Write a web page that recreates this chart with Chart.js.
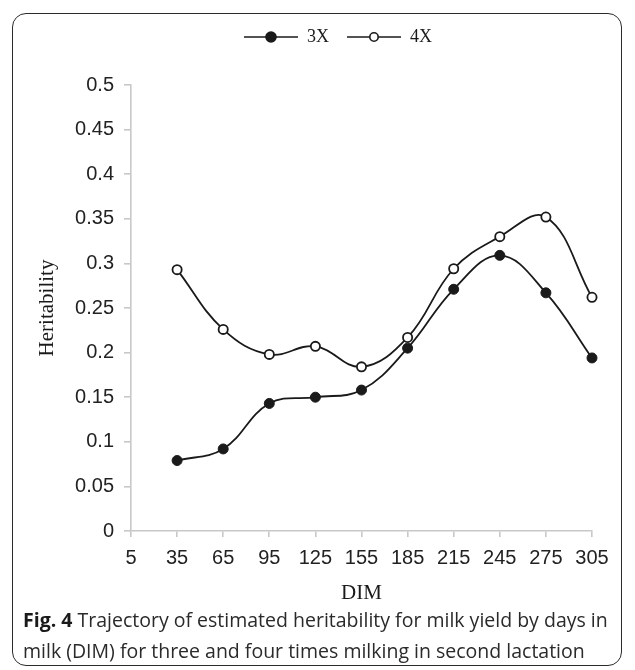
<!DOCTYPE html>
<html>
<head>
<meta charset="utf-8">
<script src="https://cdn.jsdelivr.net/npm/chart.js@4/dist/chart.umd.min.js"></script>
<style>
  html, body { margin: 0; padding: 0; background: #fff; }
  #page { position: relative; width: 635px; height: 670px; overflow: hidden; }
  #frame {
    position: absolute; left: 12px; top: 13px; width: 610px; height: 653px;
    border: 1.6px solid #2b2b2b; border-radius: 14px; box-sizing: border-box;
  }
  #box { position: absolute; left: 0; top: 0; width: 635px; height: 612px; }
  #caption {
    position: absolute; left: 23px; top: 604px; width: 592px;
    font-family: "Open Sans", sans-serif; font-size: 19.5px; line-height: 31px;
    color: #2a2a2a;
  }
  #caption b { color: #1a1a1a; }
</style>
</head>
<body>
<div id="page">
  <div id="frame"></div>
  <div id="box"><canvas id="chart"></canvas></div>
  <div id="caption"><b>Fig. 4</b> Trajectory of estimated heritability for milk yield by days in milk (DIM) for three and four times milking in second lactation</div>
</div>
<script>
const dim = ['5', '35', '65', '95', '125', '155', '185', '215', '245', '275', '305'];
const h3x = [null, 0.079, 0.092, 0.143, 0.150, 0.158, 0.205, 0.271, 0.309, 0.267, 0.194];
const h4x = [null, 0.293, 0.226, 0.198, 0.207, 0.184, 0.217, 0.294, 0.330, 0.352, 0.262];

// legend swatch: short line with the marker in the middle
function swatch(filled) {
  const c = document.createElement('canvas');
  c.width = 54; c.height = 14;
  const g = c.getContext('2d');
  g.strokeStyle = '#1a1a1a';
  g.lineWidth = 1.6;
  g.beginPath(); g.moveTo(0, 7); g.lineTo(54, 7); g.stroke();
  g.beginPath(); g.arc(27, 7, filled ? 5 : 4.2, 0, Math.PI * 2);
  g.fillStyle = filled ? '#1a1a1a' : '#fff';
  g.fill(); g.stroke();
  return c;
}

// the legend sits higher and further right than Chart.js puts it
const moveLegend = {
  id: 'moveLegend',
  afterLayout(chart) {
    const lg = chart.legend;
    lg.top -= 29; lg.bottom -= 29;
    lg.left += 42; lg.right += 42;
  }
};

const axisGray = '#c8c8c8';
const tickFont = { family: '"Liberation Sans", Arial, sans-serif', size: 20 };
const serif = '"Liberation Serif", "Times New Roman", serif';

new Chart(document.getElementById('chart'), {
  type: 'line',
  data: {
    labels: dim,
    datasets: [
      {
        label: '3X', data: h3x,
        borderColor: '#1a1a1a', borderWidth: 1.8,
        pointRadius: 5, pointBackgroundColor: '#1a1a1a', pointBorderColor: '#1a1a1a',
        pointBorderWidth: 1, tension: 0.4
      },
      {
        label: '4X', data: h4x,
        borderColor: '#1a1a1a', borderWidth: 1.8,
        pointRadius: 4.6, pointBackgroundColor: '#fff', pointBorderColor: '#1a1a1a',
        pointBorderWidth: 1.8, tension: 0.4
      }
    ]
  },
  plugins: [moveLegend],
  options: {
    responsive: true,
    maintainAspectRatio: false,
    animation: false,
    layout: { padding: { top: 12, left: 0, right: 43, bottom: 0 } },
    plugins: {
      legend: {
        position: 'top',
        labels: {
          usePointStyle: true,
          pointStyleWidth: 54,
          boxHeight: 14,
          padding: 18,
          color: '#1a1a1a',
          font: { family: serif, size: 18 },
          generateLabels: chart => chart.data.datasets.map((ds, i) => ({
            text: ds.label,
            pointStyle: swatch(i === 0),
            fontColor: '#1a1a1a',
            lineWidth: 0,
            datasetIndex: i
          }))
        }
      },
      tooltip: { enabled: false }
    },
    scales: {
      x: {
        type: 'category',
        offset: false,
        grid: { drawOnChartArea: false, drawTicks: true, tickLength: 6, color: axisGray, lineWidth: 1.6 },
        border: { color: axisGray, width: 1.6 },
        ticks: { color: '#222', font: tickFont, padding: 9, maxRotation: 0, autoSkip: false },
        title: { display: true, text: 'DIM', color: '#1a1a1a', font: { family: serif, size: 21 }, padding: { top: 4, bottom: 6 } },
        afterFit: s => { s.height = 81; }
      },
      y: {
        min: 0, max: 0.5,
        grid: { drawOnChartArea: false, drawTicks: true, tickLength: 7, color: axisGray, lineWidth: 1.6 },
        border: { color: axisGray, width: 1.6 },
        ticks: {
          stepSize: 0.05, color: '#222', font: tickFont, padding: 10,
          callback: v => String(+v.toFixed(2))
        },
        title: { display: true, text: 'Heritability', color: '#1a1a1a', font: { family: serif, size: 21 }, padding: { top: 35, bottom: 0 } },
        afterFit: s => { s.width = 131; s.paddingTop = 85; }
      }
    }
  }
});
</script>
</body>
</html>
